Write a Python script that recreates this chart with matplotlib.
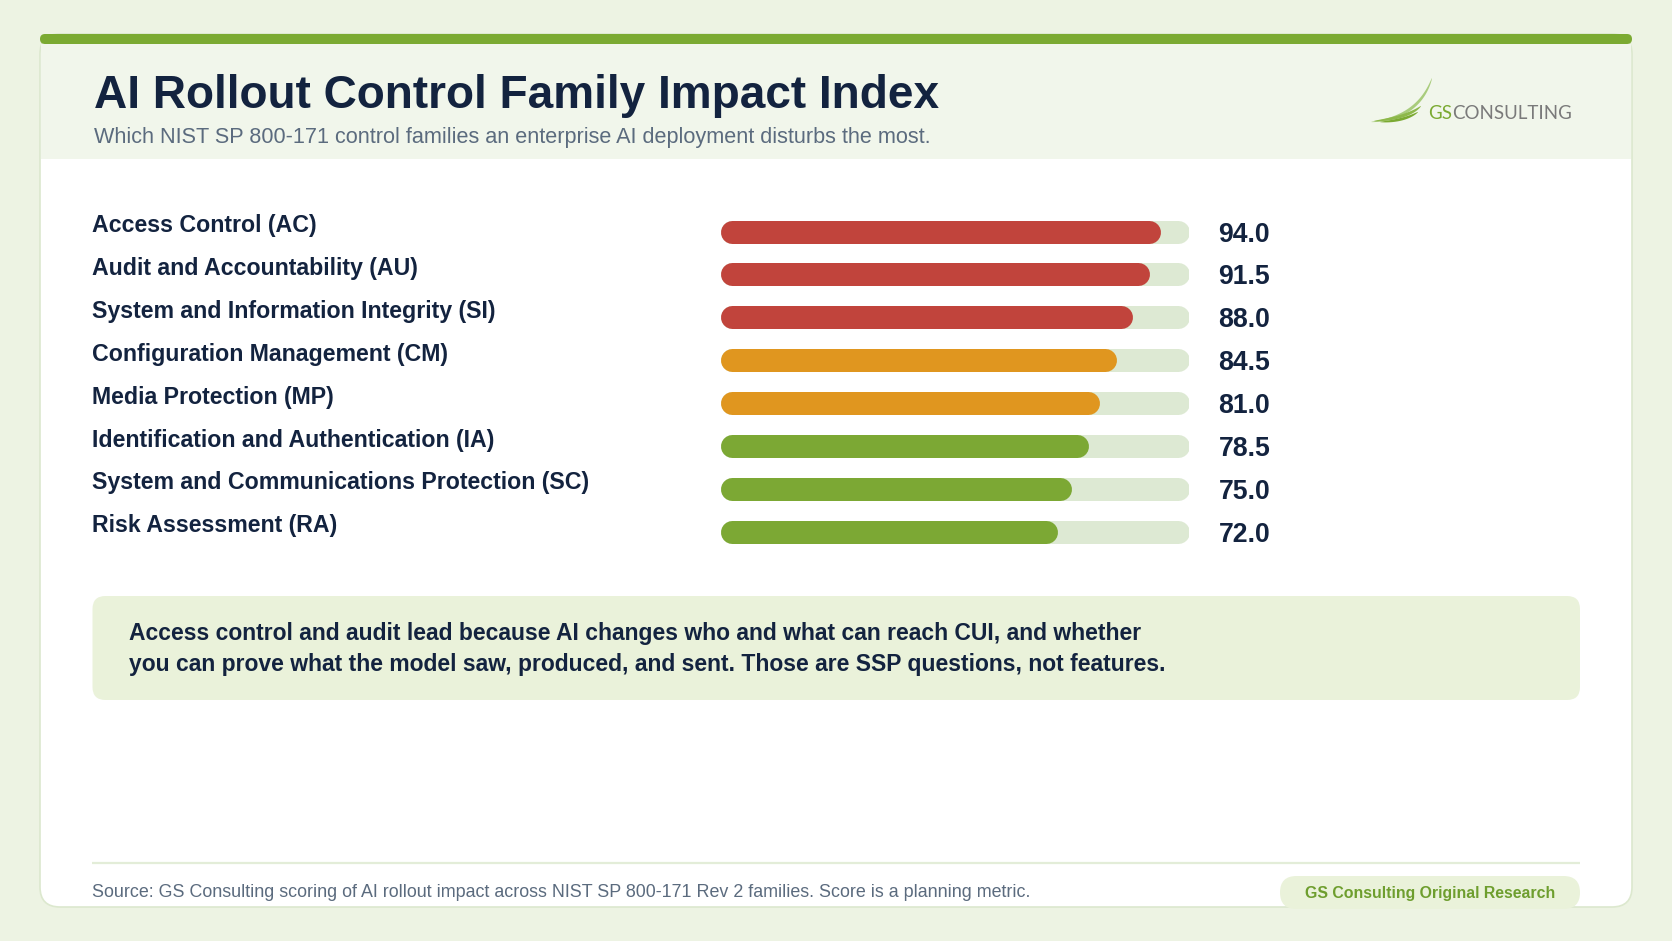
import numpy as np
import matplotlib
matplotlib.use("Agg")
import matplotlib.pyplot as plt
from matplotlib import transforms
from matplotlib.patches import FancyBboxPatch, Rectangle, Polygon

# ---------------- data ----------------
families = [
    "Access Control (AC)",
    "Audit and Accountability (AU)",
    "System and Information Integrity (SI)",
    "Configuration Management (CM)",
    "Media Protection (MP)",
    "Identification and Authentication (IA)",
    "System and Communications Protection (SC)",
    "Risk Assessment (RA)",
]
scores = [94.0, 91.5, 88.0, 84.5, 81.0, 78.5, 75.0, 72.0]
score_max = 100.0

title = "AI Rollout Control Family Impact Index"
subtitle = "Which NIST SP 800-171 control families an enterprise AI deployment disturbs the most."
callout_lines = [
    "Access control and audit lead because AI changes who and what can reach CUI, and whether",
    "you can prove what the model saw, produced, and sent. Those are SSP questions, not features.",
]
source = "Source: GS Consulting scoring of AI rollout impact across NIST SP 800-171 Rev 2 families. Score is a planning metric."
badge = "GS Consulting Original Research"

# ---------------- style ----------------
W, H = 1672, 941
NAVY = "#13233F"
GREY = "#5B6B7E"
BG = "#EDF3E3"
HEADER = "#F1F6EB"
TOPBAR = "#7BAA32"
RED = "#C1443C"
ORANGE = "#E0961F"
GREEN = "#7CA834"
TRACK = "#DDE9D3"
CALLOUT = "#EAF2DA"
FONT = "Liberation Sans"


def tier_color(v):
    if v >= 88:
        return RED
    if v >= 80:
        return ORANGE
    return GREEN


fig = plt.figure(figsize=(W / 100, H / 100), dpi=100, facecolor=BG)
renderer = fig.canvas.get_renderer()

bg = fig.add_axes([0, 0, 1, 1], zorder=0)
bg.set_xlim(0, W)
bg.set_ylim(H, 0)
bg.axis("off")


def fit(ax, x, y, s, width, size0=20, **kw):
    t = ax.text(x, y, s, fontsize=size0, **kw)
    bb = t.get_window_extent(renderer)
    t.set_fontsize(size0 * width / bb.width)
    return t


# card
card_l, card_r, card_t, card_b = 40, 1632, 34, 907
bg.add_patch(FancyBboxPatch((card_l, card_t), card_r - card_l, card_b - card_t,
                            boxstyle="round,pad=0,rounding_size=20",
                            facecolor="white", edgecolor="#DCE8CE", linewidth=1.2, zorder=1))
bg.add_patch(Rectangle((card_l + 0.6, 44), card_r - card_l - 1.2, 159 - 44,
                       facecolor=HEADER, edgecolor="none", zorder=2))
bg.add_patch(FancyBboxPatch((card_l, 34), card_r - card_l, 10,
                            boxstyle="round,pad=0,rounding_size=5",
                            facecolor=TOPBAR, edgecolor="none", zorder=3))

# title / subtitle
fit(bg, 94, 108, title, 846, 33, family=FONT, fontweight="bold", color=NAVY,
    va="baseline", ha="left", zorder=5)
fit(bg, 94.5, 143.3, subtitle, 841, 16, family=FONT, color=GREY,
    va="baseline", ha="left", zorder=5)


# logo
def crescent(p0, p1, p2, wmax, color):
    t = np.linspace(0, 1, 80)[:, None]
    p0, p1, p2 = map(np.asarray, (p0, p1, p2))
    pts = (1 - t) ** 2 * p0 + 2 * (1 - t) * t * p1 + t ** 2 * p2
    d = 2 * (1 - t) * (p1 - p0) + 2 * t * (p2 - p1)
    n = np.column_stack([-d[:, 1], d[:, 0]])
    n /= np.linalg.norm(n, axis=1)[:, None]
    w = wmax * np.sin(np.pi * t[:, 0]) ** 0.6 / 2
    up = pts + n * w[:, None]
    lo = pts - n * w[:, None]
    bg.add_patch(Polygon(np.vstack([up, lo[::-1]]), closed=True,
                         facecolor=color, edgecolor="none", zorder=6))


crescent((1371, 122), (1419, 118), (1432, 78), 3.0, "#A9CC7C")
crescent((1374, 121), (1408, 118), (1421, 106), 3.2, "#8DB84A")
crescent((1380, 122), (1405, 121), (1418, 112), 2.8, "#7BAA32")

LOGO_FONT = ["Lato", "DejaVu Sans"]
lg = fit(bg, 1428, 119, "GSCONSULTING", 144, 15, family=LOGO_FONT, fontweight="normal",
         va="baseline", ha="left", color="#7A7A7A", zorder=6)
lg_size = lg.get_fontsize()
lg.remove()
gs = bg.text(1428, 119, "GS", fontsize=lg_size, family=LOGO_FONT, fontweight="normal",
             va="baseline", ha="left", color=TOPBAR, zorder=6)
gs_bb = gs.get_window_extent(renderer)
bg.text(1428 + gs_bb.width, 119, "CONSULTING", fontsize=lg_size, family=LOGO_FONT,
        fontweight="normal", va="baseline", ha="left", color="#7A7A7A", zorder=6)

# ---------------- bars ----------------
row_h = 42.9
n = len(scores)
bar_left, bar_w = 720, 469
top_px = 231.5 - row_h / 2
ax = fig.add_axes([bar_left / W, 1 - (top_px + n * row_h) / H, bar_w / W, n * row_h / H], zorder=3)
ax.set_xlim(0, score_max)
ax.set_ylim(n - 0.5, -0.5)
ax.axis("off")
ax.patch.set_alpha(0)

bar_px = 23
lw = bar_px * 72 / 100
r = (bar_px / 2) / bar_w * score_max
rows = np.arange(n)
for i, v in zip(rows, scores):
    ax.plot([r, score_max - r], [i, i], color=TRACK, lw=lw, solid_capstyle="round", zorder=1)
    ax.plot([r, v - r], [i, i], color=tier_color(v), lw=lw, solid_capstyle="round", zorder=2)

lab_tr = transforms.blended_transform_factory(fig.transFigure, ax.transData)
lab_tr = transforms.offset_copy(lab_tr, fig=fig, y=-0.5, units="dots")
size_lab = None
for i, name in zip(rows, families):
    if size_lab is None:
        t = fit(ax, 92 / W, i, name, 224.5, 17, family=FONT, fontweight="bold", color=NAVY,
                va="baseline", ha="left", transform=lab_tr, clip_on=False)
        size_lab = t.get_fontsize()
    else:
        ax.text(92 / W, i, name, fontsize=size_lab, family=FONT, fontweight="bold", color=NAVY,
                va="baseline", ha="left", transform=lab_tr, clip_on=False)

val_tr = transforms.offset_copy(ax.transData, fig=fig, y=-10, units="dots")
val_x = (1218.6 - bar_left) / bar_w * score_max
size_val = None
for i, v in zip(rows, scores):
    s = f"{v:.1f}"
    if size_val is None:
        t = fit(ax, val_x, i, s, 51.7, 19, family=FONT, fontweight="bold", color=NAVY,
                va="baseline", ha="left", transform=val_tr, clip_on=False)
        size_val = t.get_fontsize()
    else:
        ax.text(val_x, i, s, fontsize=size_val, family=FONT, fontweight="bold", color=NAVY,
                va="baseline", ha="left", transform=val_tr, clip_on=False)

# ---------------- callout ----------------
bg.add_patch(FancyBboxPatch((92.5, 596), 1580 - 92.5, 700 - 596,
                            boxstyle="round,pad=0,rounding_size=13",
                            facecolor=CALLOUT, edgecolor="none", zorder=4))
c1 = fit(bg, 129, 640, callout_lines[0], 1018, 17, family=FONT, fontweight="bold",
         color=NAVY, va="baseline", ha="left", zorder=5)
bg.text(129, 671, callout_lines[1], fontsize=c1.get_fontsize(), family=FONT,
        fontweight="bold", color=NAVY, va="baseline", ha="left", zorder=5)

# ---------------- footer ----------------
bg.plot([92, 1580], [862.7, 862.7], color="#E3EDD8", lw=1.6, zorder=4, solid_capstyle="butt")
fit(bg, 92, 897, source, 942, 14, family=FONT, color=GREY, va="baseline", ha="left", zorder=5)
bg.add_patch(FancyBboxPatch((1280, 876), 300, 33,
                            boxstyle="round,pad=0,rounding_size=16.5",
                            facecolor=CALLOUT, edgecolor="none", zorder=6))
fit(bg, 1430, 898, badge, 251, 12.5, family=FONT, fontweight="bold", color="#6E9E2E",
    va="baseline", ha="center", zorder=7)

fig.savefig("out.png", dpi=100, facecolor=BG)
